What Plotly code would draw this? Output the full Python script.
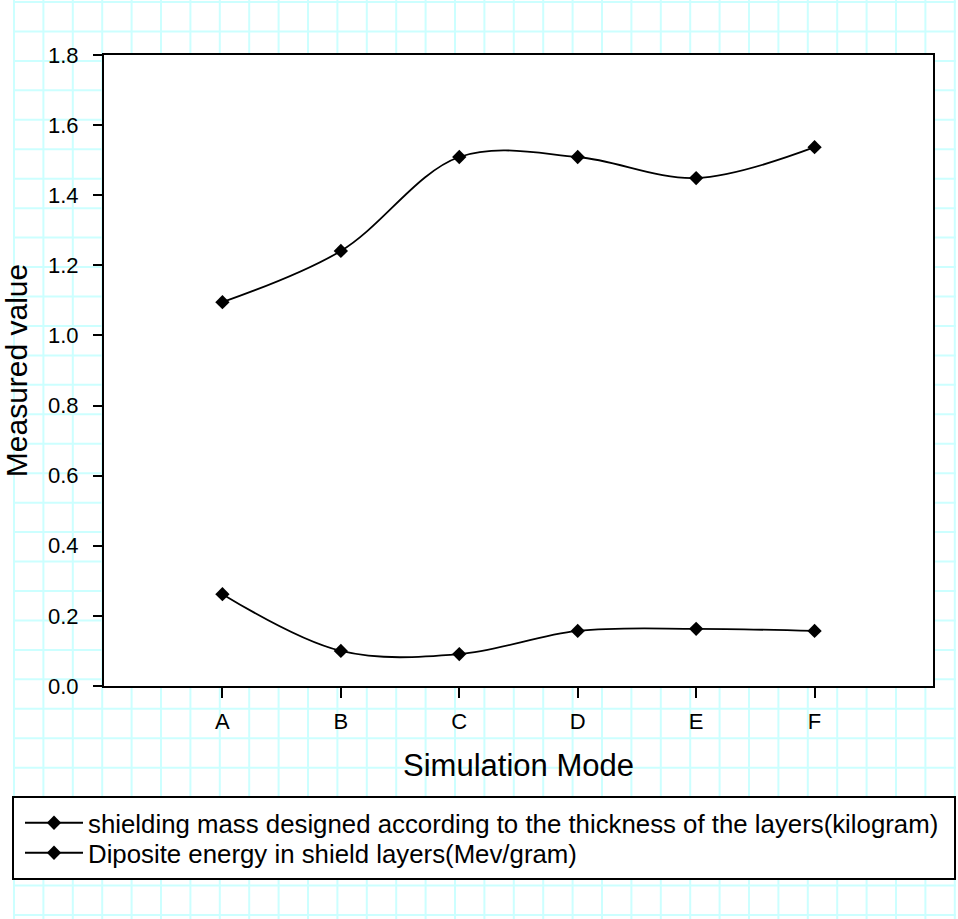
import plotly.graph_objects as go

# ---- data ----
modes = ["A", "B", "C", "D", "E", "F"]
mode_pos = [1, 2, 3, 4, 5, 6]
shielding_mass = [1.095, 1.241, 1.509, 1.509, 1.449, 1.537]
deposit_energy = [0.262, 0.100, 0.091, 0.157, 0.163, 0.157]
y_ticks = [0.0, 0.2, 0.4, 0.6, 0.8, 1.0, 1.2, 1.4, 1.6, 1.8]
name_mass = "shielding mass designed according to the thickness of the layers(kilogram)"
name_energy = "Diposite energy in shield layers(Mev/gram)"

W, H = 958, 919
ML, MR, MT, MB = 104, 25, 55, 233
PW, PH = W - ML - MR, H - MT - MB

def px_x(p):
    return (p - ML) / PW

def px_y(p):
    return (H - MB - p) / PH

FONT = "Liberation Sans, Arial, sans-serif"
GRID = "#ccffff"

fig = go.Figure()
fig.add_trace(go.Scatter(
    x=mode_pos, y=shielding_mass, name=name_mass, mode="lines+markers",
    line=dict(color="black", width=1.8, shape="spline"),
    marker=dict(symbol="diamond", size=11, color="black"),
    legend="legend",
))
fig.add_trace(go.Scatter(
    x=mode_pos, y=deposit_energy, name=name_energy, mode="lines+markers",
    line=dict(color="black", width=1.8, shape="spline"),
    marker=dict(symbol="diamond", size=11, color="black"),
    legend="legend2",
))

shapes = []
# graph-paper background
for k in range(33):
    xp = 14 + 29.4 * k
    shapes.append(dict(type="line", xref="paper", yref="paper", layer="below",
                       x0=px_x(xp), x1=px_x(xp), y0=px_y(0), y1=px_y(H),
                       line=dict(color=GRID, width=2)))
for k in range(32):
    yp = 2 + 29.45 * k
    shapes.append(dict(type="line", xref="paper", yref="paper", layer="below",
                       x0=px_x(14), x1=px_x(956), y0=px_y(yp), y1=px_y(yp),
                       line=dict(color=GRID, width=2)))
# legend box
shapes.append(dict(type="rect", xref="paper", yref="paper", layer="below",
                   x0=px_x(13), x1=px_x(955), y0=px_y(797), y1=px_y(879),
                   fillcolor="white", line=dict(color="black", width=2)))
# white plot area
shapes.append(dict(type="rect", xref="x domain", yref="y domain", layer="below",
                   x0=0, x1=1, y0=0, y1=1, fillcolor="white", line=dict(width=0)))

leg_common = dict(bgcolor="rgba(0,0,0,0)", borderwidth=0, itemwidth=58,
                  font=dict(family=FONT, size=25.8, color="black"),
                  xanchor="left", yanchor="middle")

fig.update_layout(
    width=W, height=H,
    margin=dict(l=ML, r=MR, t=MT, b=MB, autoexpand=False),
    paper_bgcolor="white", plot_bgcolor="white",
    font=dict(family=FONT, color="black"),
    shapes=shapes,
    showlegend=True,
    legend=dict(x=px_x(20), y=px_y(823), **leg_common),
    legend2=dict(x=px_x(20), y=px_y(853), **leg_common),
    xaxis=dict(
        range=[0, 7], tickmode="array", tickvals=mode_pos, ticktext=modes,
        showgrid=False, zeroline=False, showline=True, linecolor="black",
        linewidth=2, mirror=True, ticks="outside", ticklen=10, tickwidth=2,
        tickcolor="black", ticklabelstandoff=5,
        tickfont=dict(family=FONT, size=22, color="black"),
        title=dict(text="Simulation Mode", standoff=21,
                   font=dict(family=FONT, size=31, color="black")),
    ),
    yaxis=dict(
        range=[0, 1.8], tickmode="array", tickvals=y_ticks, tickformat=".1f",
        showgrid=False, zeroline=False, showline=True, linecolor="black",
        linewidth=2, mirror=True, ticks="outside", ticklen=9, tickwidth=2,
        tickcolor="black", ticklabelstandoff=10,
        tickfont=dict(family=FONT, size=22, color="black"),
        title=dict(text="Measured value", standoff=23,
                   font=dict(family=FONT, size=30, color="black")),
    ),
)

fig.write_html("out.html", config={"displayModeBar": False},
               post_script="document.body.style.margin='0';")
